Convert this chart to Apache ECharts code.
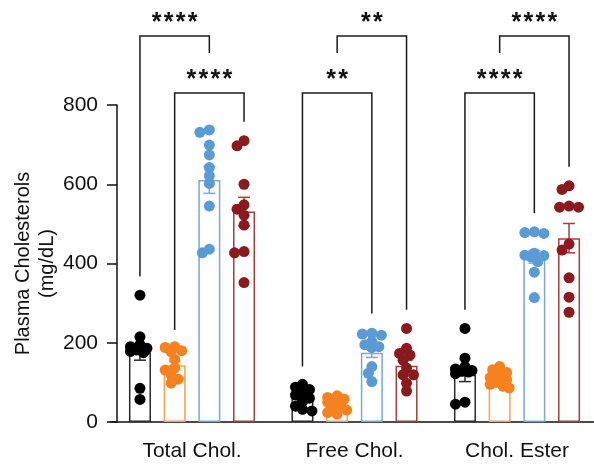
<!DOCTYPE html>
<html><head><meta charset="utf-8">
<script src="https://cdn.jsdelivr.net/npm/echarts@6/dist/echarts.min.js"></script>
<style>html,body{margin:0;padding:0;background:#fff}#c{width:594px;height:464px}</style>
</head><body><div id="c"></div>
<script>
// ---------- data ----------
const categories = ['Total Chol.', 'Free Chol.', 'Chol. Ester'];
const groupNames = ['Group 1', 'Group 2', 'Group 3', 'Group 4'];
const yMin = 0, yMax = 800, yStep = 200;

const mean1 = [174, 60, 119];
const mean2 = [143, 43, 108];
const mean3 = [611, 175, 417];
const mean4 = [531, 142, 464];

const sem1 = [18, 7, 17];
const sem2 = [10, 5, 6];
const sem3 = [34, 12, 16];
const sem4 = [36, 14, 37];

const pts1_total = [320, 215, 195, 190, 186, 182, 178, 175, 85, 57];
const pts1_free  = [95, 88, 82, 75, 68, 60, 52, 40, 32, 28];
const pts1_ester = [236, 161, 140, 134, 130, 128, 126, 122, 50, 45];
const pts2_total = [190, 188, 180, 177, 158, 136, 131, 119, 108, 98];
const pts2_free  = [66, 62, 58, 55, 50, 44, 36, 30, 24, 20];
const pts2_ester = [140, 132, 125, 118, 112, 106, 100, 95, 90, 86];
const pts3_total = [737, 731, 699, 674, 642, 621, 602, 545, 436, 427];
const pts3_free  = [224, 222, 219, 203, 195, 190, 188, 140, 123, 102];
const pts3_ester = [480, 478, 476, 426, 421, 420, 417, 405, 378, 314];
const pts4_total = [710, 697, 600, 548, 537, 522, 497, 430, 427, 352];
const pts4_free  = [236, 186, 173, 169, 156, 136, 119, 119, 98, 78];
const pts4_ester = [596, 587, 545, 542, 542, 449, 434, 364, 315, 277];

// significance brackets (category, group from, group to, level, leg ends, label)
const brCat     = [0, 0, 1, 1, 2, 2];
const brFrom    = [0, 1, 0, 1, 0, 1];
const brTo      = [2, 3, 2, 3, 2, 3];
const brTop     = [974, 830, 830, 974, 830, 974];
const brLegFrom = [367, 232, 140, 931, 283, 931];
const brLegTo   = [931, 758, 274, 283, 527, 644];
const brLabel   = ['****', '****', '**', '**', '****', '****'];

// ---------- assembly ----------
const means = [mean1, mean2, mean3, mean4];
const sems = [sem1, sem2, sem3, sem4];
const pts = [
  [pts1_total, pts1_free, pts1_ester],
  [pts2_total, pts2_free, pts2_ester],
  [pts3_total, pts3_free, pts3_ester],
  [pts4_total, pts4_free, pts4_ester]
];
const dotColors = ['#000000', '#f5821f', '#5b9bd5', '#8b1a1e'];
const barColors = ['#2a2a2a', '#f7a24e', '#77a8de', '#a0413e'];
const FONT = '"Liberation Sans", Arial, sans-serif';
const BAR_W = 22, GAP = 0.577;
const SPACING = BAR_W * (1 + GAP);
function groupOffset(g) { return (g - 1.5) * SPACING; }

const itemsCG = [];
for (let c = 0; c < categories.length; c++) for (let g = 0; g < 4; g++) itemsCG.push([c, means[g][c], g]);

function swarm(ys) {
  const order = ys.map((y, i) => i).sort((a, b) => ys[a] - ys[b]);
  const placed = [];
  const offs = new Array(ys.length).fill(0);
  const cands = [0, -3.5, 3.5, -7, 7, -9.5, 9.5];
  const D = 7.5;
  order.forEach(i => {
    let best = 0, bestD = -1, chosen = null;
    for (const o of cands) {
      let md = Infinity;
      for (const p of placed) { const d = Math.hypot(p[0] - o, p[1] - ys[i]); if (d < md) md = d; }
      if (md >= D) { chosen = o; break; }
      if (md > bestD) { bestD = md; best = o; }
    }
    if (chosen === null) chosen = best;
    offs[i] = chosen;
    placed.push([chosen, ys[i]]);
  });
  return offs;
}

const series = [];
for (let g = 0; g < 4; g++) {
  series.push({
    type: 'bar', name: groupNames[g], data: means[g], barWidth: BAR_W, barGap: (GAP * 100).toFixed(1) + '%',
    itemStyle: { color: 'rgba(255,255,255,0)', borderColor: barColors[g], borderWidth: 1.5 },
    z: 2, silent: true
  });
}
series.push({
  type: 'custom', z: 3, silent: true, clip: false,
  data: itemsCG,
  renderItem: function (params, api) {
    const c = api.value(0), g = api.value(2);
    const m = means[g][c], s = sems[g][c];
    const x = api.coord([c, 0])[0] + groupOffset(g);
    const yT = api.coord([c, m + s])[1], yB = api.coord([c, m - s])[1];
    const st = { stroke: barColors[g], lineWidth: 1.5 };
    return { type: 'group', children: [
      { type: 'line', shape: { x1: x, y1: yT, x2: x, y2: yB }, style: st },
      { type: 'line', shape: { x1: x - 6, y1: yT, x2: x + 6, y2: yT }, style: st },
      { type: 'line', shape: { x1: x - 6, y1: yB, x2: x + 6, y2: yB }, style: st }
    ]};
  }
});
series.push({
  type: 'custom', z: 4, silent: true, clip: false,
  data: itemsCG,
  renderItem: function (params, api) {
    const c = api.value(0), g = api.value(2);
    const vals = pts[g][c];
    const x0 = api.coord([c, 0])[0] + groupOffset(g);
    const ys = vals.map(v => api.coord([c, v])[1]);
    const offs = swarm(ys);
    return { type: 'group', children: vals.map((v, i) => ({
      type: 'circle', shape: { cx: x0 + offs[i], cy: ys[i], r: 5.5 }, style: { fill: dotColors[g] }
    }))};
  }
});
series.push({
  type: 'custom', z: 5, silent: true, clip: false,
  data: brCat.map((c, i) => [c, brTop[i], i]),
  renderItem: function (params, api) {
    const c = api.value(0), i = api.value(2);
    const xa = api.coord([c, 0])[0] + groupOffset(brFrom[i]);
    const xb = api.coord([c, 0])[0] + groupOffset(brTo[i]);
    const yt = api.coord([c, brTop[i]])[1];
    const ya = api.coord([c, brLegFrom[i]])[1];
    const yb = api.coord([c, brLegTo[i]])[1];
    const st = { stroke: '#1a1a1a', lineWidth: 1.5, fill: null };
    const children = [{ type: 'polyline', shape: { points: [[xa, ya], [xa, yt], [xb, yt], [xb, yb]] }, style: st }];
    const lab = brLabel[i], n = lab.length, xm = (xa + xb) / 2;
    for (let k = 0; k < n; k++) {
      children.push({ type: 'text', style: {
        text: lab[k], x: xm + (k - (n - 1) / 2) * 12, y: yt - 13,
        align: 'center', verticalAlign: 'middle', fill: '#111',
        font: 'bold 25px ' + FONT
      }});
    }
    return { type: 'group', children };
  }
});

const chart = echarts.init(document.getElementById('c'), null, { renderer: 'canvas' });
chart.setOption({
  animation: false,
  backgroundColor: '#ffffff',
  grid: { left: 110.75, right: -4.25, top: 105, bottom: 42, containLabel: false, outerBoundsMode: 'none' },
  xAxis: {
    type: 'category', data: categories,
    axisLine: { lineStyle: { color: '#111', width: 1.5 } },
    axisTick: { alignWithLabel: true, length: 10, lineStyle: { color: '#111', width: 1.5 } },
    axisLabel: { color: '#111', fontSize: 21, fontFamily: FONT, margin: 19 }
  },
  yAxis: {
    type: 'value', min: yMin, max: yMax, interval: yStep, offset: -6.25,
    name: 'Plasma Cholesterols\n(mg/dL)', nameLocation: 'middle', nameGap: 58, nameMoveOverlap: false,
    nameTextStyle: { color: '#111', fontSize: 20, fontFamily: FONT, lineHeight: 24 },
    axisLine: { show: true, lineStyle: { color: '#111', width: 1.5 } },
    axisTick: { show: true, length: 10, lineStyle: { color: '#111', width: 1.5 } },
    axisLabel: { color: '#111', fontSize: 21, fontFamily: FONT, margin: 19 },
    splitLine: { show: false }
  },
  series
});
</script></body></html>
